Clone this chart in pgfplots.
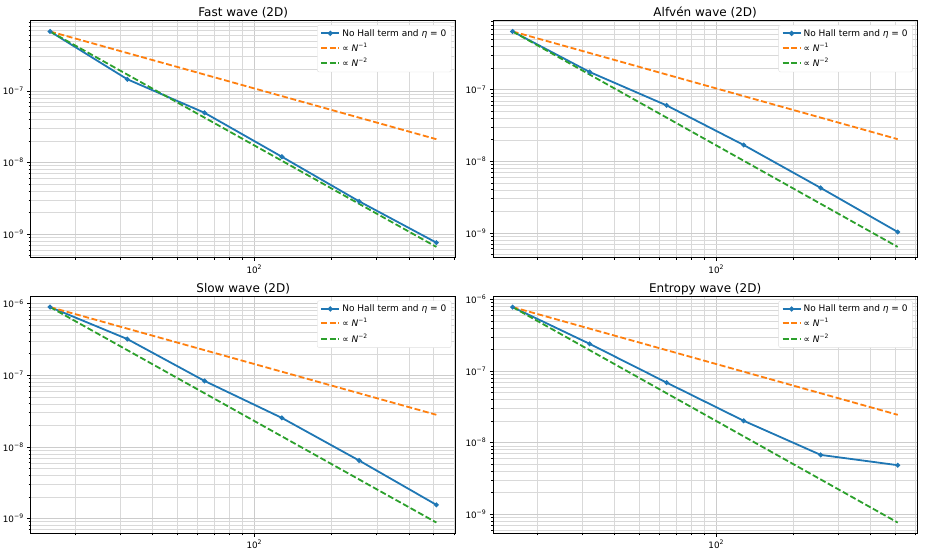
\documentclass[border=0pt]{standalone}
\usepackage{fontspec}
\setmainfont{DejaVu Sans}
\usepackage{pgfplots}
\pgfplotsset{compat=1.18}

\definecolor{tabblue}{HTML}{1F77B4}
\definecolor{taborange}{HTML}{FF7F0E}
\definecolor{tabgreen}{HTML}{2CA02C}

\pgfplotsset{
  convpanel/.style={
    scale only axis,
    width=425pt, height=237pt,
    xmin=13.45, xmax=609,
    xtick={100}, xticklabels={10\textsuperscript{2}},
    minor xtick={20,30,40,50,60,70,80,90,200,300,400,500,600},
    ytick={1e-9,1e-8,1e-7,1e-6},
    yticklabels={10\textsuperscript{−9},10\textsuperscript{−8},10\textsuperscript{−7},10\textsuperscript{−6}},
    minor ytick={2e-10,3e-10,4e-10,5e-10,6e-10,7e-10,8e-10,9e-10,
                 2e-9,3e-9,4e-9,5e-9,6e-9,7e-9,8e-9,9e-9,
                 2e-8,3e-8,4e-8,5e-8,6e-8,7e-8,8e-8,9e-8,
                 2e-7,3e-7,4e-7,5e-7,6e-7,7e-7,8e-7,9e-7,
                 2e-6,3e-6},
    grid=both,
    major grid style={draw=gray!40, line width=0.6pt},
    minor grid style={draw=gray!30, line width=0.5pt},
    tick align=outside,
    xtick pos=bottom, ytick pos=left,
    major tick length=3.5pt, minor tick length=2pt,
    every tick/.style={black, line width=0.6pt},
    axis line style={line width=0.6pt},
    every axis title shift=0pt,
    title style={font=\fontsize{12}{14}\selectfont, at={(0.5,1)}, anchor=base, yshift=4pt},
    ticklabel style={font=\fontsize{8.8}{10}\selectfont},
    legend style={at={(0.99,0.982)}, anchor=north east,
      font=\fontsize{9}{11}\selectfont,
      draw=gray!25, rounded corners=2pt, fill=white,
      row sep=1.5pt},
    legend cell align=left,
    legend image code/.code={%
      \draw[mark repeat=2, mark phase=2, line width=2pt, ##1]
        plot coordinates {(0pt,0pt) (9pt,0pt) (18pt,0pt)};},
  },
  simline/.style={tabblue, line width=1.8pt, mark=*, mark size=1.4pt},
  ordone/.style={taborange, line width=1.8pt, dash pattern=on 6pt off 2.6pt},
  ordtwo/.style={tabgreen, line width=1.8pt, dash pattern=on 6pt off 2.6pt},
}

\begin{document}
\begin{tikzpicture}
\useasboundingbox (0,0) rectangle (926pt,-552pt);

% ---- Fast wave ----
\begin{loglogaxis}[convpanel, at={(30.7pt,-20.7pt)}, anchor=north west,
  ymin=4.66e-10, ymax=9.54e-7, title={Fast wave (2D)}]
\addplot[simline] coordinates {(16,6.75e-7) (32,1.45e-7) (64,4.93e-8) (128,1.2e-8) (256,2.86e-9) (512,7.57e-10)};
\addlegendentry{No Hall term and \textit{η} = 0}
\addplot[ordone] coordinates {(16,6.75e-7) (32,3.375e-7) (64,1.6875e-7) (128,8.4375e-8) (256,4.21875e-8) (512,2.109e-8)};
\addlegendentry{∝ \textit{N}\textsuperscript{−1}}
\addplot[ordtwo] coordinates {(16,6.75e-7) (32,1.6875e-7) (64,4.21875e-8) (128,1.0547e-8) (256,2.6367e-9) (512,6.592e-10)};
\addlegendentry{∝ \textit{N}\textsuperscript{−2}}
\end{loglogaxis}

% ---- Alfven wave ----
\begin{loglogaxis}[convpanel, at={(493.3pt,-20.7pt)}, anchor=north west, width=423.7pt,
  ymin=4.50e-10, ymax=9.21e-7, title={Alfvén wave (2D)}]
\addplot[simline] coordinates {(16,6.52e-7) (32,1.77e-7) (64,6.04e-8) (128,1.69e-8) (256,4.25e-9) (512,1.03e-9)};
\addlegendentry{No Hall term and \textit{η} = 0}
\addplot[ordone] coordinates {(16,6.52e-7) (32,3.26e-7) (64,1.63e-7) (128,8.15e-8) (256,4.075e-8) (512,2.0375e-8)};
\addlegendentry{∝ \textit{N}\textsuperscript{−1}}
\addplot[ordtwo] coordinates {(16,6.52e-7) (32,1.63e-7) (64,4.075e-8) (128,1.01875e-8) (256,2.5469e-9) (512,6.367e-10)};
\addlegendentry{∝ \textit{N}\textsuperscript{−2}}
\end{loglogaxis}

% ---- Slow wave ----
\begin{loglogaxis}[convpanel, at={(30.7pt,-296.3pt)}, anchor=north west,
  ymin=6.20e-10, ymax=1.269e-6, title={Slow wave (2D)}]
\addplot[simline] coordinates {(16,8.98e-7) (32,3.21e-7) (64,8.34e-8) (128,2.54e-8) (256,6.45e-9) (512,1.55e-9)};
\addlegendentry{No Hall term and \textit{η} = 0}
\addplot[ordone] coordinates {(16,8.98e-7) (32,4.49e-7) (64,2.245e-7) (128,1.1225e-7) (256,5.6125e-8) (512,2.8063e-8)};
\addlegendentry{∝ \textit{N}\textsuperscript{−1}}
\addplot[ordtwo] coordinates {(16,8.98e-7) (32,2.245e-7) (64,5.6125e-8) (128,1.4031e-8) (256,3.5078e-9) (512,8.770e-10)};
\addlegendentry{∝ \textit{N}\textsuperscript{−2}}
\end{loglogaxis}

% ---- Entropy wave ----
\begin{loglogaxis}[convpanel, at={(493.3pt,-296.3pt)}, anchor=north west, width=423.7pt,
  ymin=5.41e-10, ymax=1.107e-6, title={Entropy wave (2D)}]
\addplot[simline] coordinates {(16,7.83e-7) (32,2.4e-7) (64,6.89e-8) (128,2.02e-8) (256,6.74e-9) (512,4.84e-9)};
\addlegendentry{No Hall term and \textit{η} = 0}
\addplot[ordone] coordinates {(16,7.83e-7) (32,3.915e-7) (64,1.9575e-7) (128,9.7875e-8) (256,4.8938e-8) (512,2.4469e-8)};
\addlegendentry{∝ \textit{N}\textsuperscript{−1}}
\addplot[ordtwo] coordinates {(16,7.83e-7) (32,1.9575e-7) (64,4.8938e-8) (128,1.2234e-8) (256,3.0586e-9) (512,7.646e-10)};
\addlegendentry{∝ \textit{N}\textsuperscript{−2}}
\end{loglogaxis}
\end{tikzpicture}
\end{document}
